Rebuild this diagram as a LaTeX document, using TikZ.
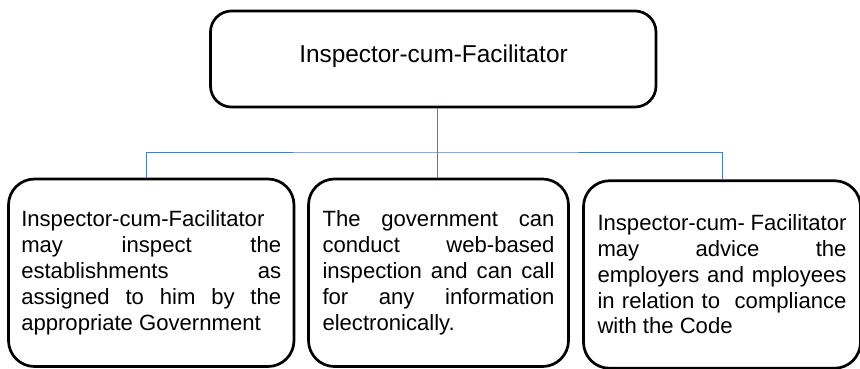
\documentclass[tikz,border=0pt]{standalone}
\usepackage{fontspec}
\setmainfont{Liberation Sans}
\definecolor{conn}{HTML}{4A7EBB}
\tolerance=10000
\hbadness=10000
\hyphenpenalty=10000
\exhyphenpenalty=10000
\begin{document}
\begin{tikzpicture}[x=1pt,y=-1pt,
  box/.style={draw=black, line width=2.7pt, rounded corners=21pt, inner sep=0pt},
  kid/.style={box, rounded corners=26pt, text width=#1, align=justify,
    font=\fontsize{22.1}{25.8}\selectfont, minimum height=187.5pt},
  link/.style={draw=conn, line width=1pt}]
\useasboundingbox (0,0) rectangle (860,369);
\node[box, minimum width=445.5pt, minimum height=96pt] (top) at (433.25,59) {};
\node[font=\fontsize{24.4}{28}\selectfont, anchor=base, inner sep=0pt] (title) at (433.5,63) {Inspector-cum-Facilitator};
\node[kid=260pt, minimum width=285.5pt] (c1) at (151.25,272.75)
  {Inspector-cum-Facilitator\linebreak may inspect the\linebreak establishments as\linebreak assigned to him by the\linebreak appropriate Government};
\node[kid=232pt, minimum width=260pt] (c2) at (438.5,272.75)
  {The government can\linebreak conduct web-based\linebreak inspection and can call\linebreak for any information\linebreak electronically.};
\node[kid=249pt, minimum width=277pt] (c3) at (722,274.5)
  {Inspector-cum- Facilitator\linebreak may advice the\linebreak employers and mployees\linebreak in relation to\ \ compliance\linebreak with the Code};
\coordinate (bus) at (437,152);
\draw[link] ([xshift=-1.5pt]c2.north) -- ([xshift=-1.5pt]c2.north |- top.south);
\draw[link] ([xshift=-5pt]c1.north) |- (bus) -| (c3.north);
\end{tikzpicture}
\end{document}
